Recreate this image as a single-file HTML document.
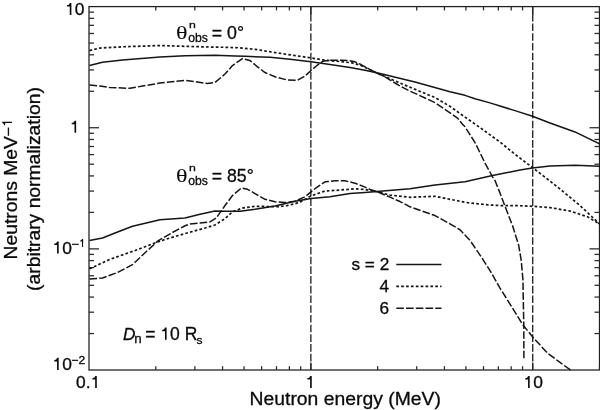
<!DOCTYPE html>
<html><head><meta charset="utf-8"><title>Neutron spectra</title>
<style>
html,body{margin:0;padding:0;background:#fff;}
body{width:600px;height:410px;overflow:hidden;}
svg{display:block;}
text{font-family:"Liberation Sans",sans-serif;fill:#0a0a0a;stroke:#0a0a0a;stroke-width:0.3;}
.ser{font-family:"Liberation Serif",serif;stroke-width:0.05;}
</style></head><body>
<svg width="600" height="410" viewBox="0 0 600 410" style="will-change:transform">
<rect x="0" y="0" width="600" height="410" fill="#fff"/>
<g stroke="#1e1e1e" stroke-width="1.25" fill="none">
<rect x="89.00" y="6.60" width="510.50" height="363.40"/>
</g>
<g stroke="#2e2e2e" stroke-width="1.3" fill="none">
<line x1="89.00" y1="333.54" x2="94.00" y2="333.54"/>
<line x1="599.50" y1="333.54" x2="594.50" y2="333.54"/>
<line x1="89.00" y1="312.20" x2="94.00" y2="312.20"/>
<line x1="599.50" y1="312.20" x2="594.50" y2="312.20"/>
<line x1="89.00" y1="297.07" x2="94.00" y2="297.07"/>
<line x1="599.50" y1="297.07" x2="594.50" y2="297.07"/>
<line x1="89.00" y1="285.33" x2="94.00" y2="285.33"/>
<line x1="599.50" y1="285.33" x2="594.50" y2="285.33"/>
<line x1="89.00" y1="275.74" x2="94.00" y2="275.74"/>
<line x1="599.50" y1="275.74" x2="594.50" y2="275.74"/>
<line x1="89.00" y1="267.63" x2="94.00" y2="267.63"/>
<line x1="599.50" y1="267.63" x2="594.50" y2="267.63"/>
<line x1="89.00" y1="260.61" x2="94.00" y2="260.61"/>
<line x1="599.50" y1="260.61" x2="594.50" y2="260.61"/>
<line x1="89.00" y1="254.41" x2="94.00" y2="254.41"/>
<line x1="599.50" y1="254.41" x2="594.50" y2="254.41"/>
<line x1="89.00" y1="248.87" x2="99.00" y2="248.87"/>
<line x1="599.50" y1="248.87" x2="589.50" y2="248.87"/>
<line x1="89.00" y1="212.40" x2="94.00" y2="212.40"/>
<line x1="599.50" y1="212.40" x2="594.50" y2="212.40"/>
<line x1="89.00" y1="191.07" x2="94.00" y2="191.07"/>
<line x1="599.50" y1="191.07" x2="594.50" y2="191.07"/>
<line x1="89.00" y1="175.94" x2="94.00" y2="175.94"/>
<line x1="599.50" y1="175.94" x2="594.50" y2="175.94"/>
<line x1="89.00" y1="164.20" x2="94.00" y2="164.20"/>
<line x1="599.50" y1="164.20" x2="594.50" y2="164.20"/>
<line x1="89.00" y1="154.61" x2="94.00" y2="154.61"/>
<line x1="599.50" y1="154.61" x2="594.50" y2="154.61"/>
<line x1="89.00" y1="146.50" x2="94.00" y2="146.50"/>
<line x1="599.50" y1="146.50" x2="594.50" y2="146.50"/>
<line x1="89.00" y1="139.47" x2="94.00" y2="139.47"/>
<line x1="599.50" y1="139.47" x2="594.50" y2="139.47"/>
<line x1="89.00" y1="133.28" x2="94.00" y2="133.28"/>
<line x1="599.50" y1="133.28" x2="594.50" y2="133.28"/>
<line x1="89.00" y1="127.73" x2="99.00" y2="127.73"/>
<line x1="599.50" y1="127.73" x2="589.50" y2="127.73"/>
<line x1="89.00" y1="91.27" x2="94.00" y2="91.27"/>
<line x1="599.50" y1="91.27" x2="594.50" y2="91.27"/>
<line x1="89.00" y1="69.94" x2="94.00" y2="69.94"/>
<line x1="599.50" y1="69.94" x2="594.50" y2="69.94"/>
<line x1="89.00" y1="54.80" x2="94.00" y2="54.80"/>
<line x1="599.50" y1="54.80" x2="594.50" y2="54.80"/>
<line x1="89.00" y1="43.06" x2="94.00" y2="43.06"/>
<line x1="599.50" y1="43.06" x2="594.50" y2="43.06"/>
<line x1="89.00" y1="33.47" x2="94.00" y2="33.47"/>
<line x1="599.50" y1="33.47" x2="594.50" y2="33.47"/>
<line x1="89.00" y1="25.36" x2="94.00" y2="25.36"/>
<line x1="599.50" y1="25.36" x2="594.50" y2="25.36"/>
<line x1="89.00" y1="18.34" x2="94.00" y2="18.34"/>
<line x1="599.50" y1="18.34" x2="594.50" y2="18.34"/>
<line x1="89.00" y1="12.14" x2="94.00" y2="12.14"/>
<line x1="599.50" y1="12.14" x2="594.50" y2="12.14"/>
<line x1="155.79" y1="370.00" x2="155.79" y2="366.20"/>
<line x1="155.79" y1="6.60" x2="155.79" y2="10.40"/>
<line x1="194.85" y1="370.00" x2="194.85" y2="366.20"/>
<line x1="194.85" y1="6.60" x2="194.85" y2="10.40"/>
<line x1="222.57" y1="370.00" x2="222.57" y2="366.20"/>
<line x1="222.57" y1="6.60" x2="222.57" y2="10.40"/>
<line x1="244.07" y1="370.00" x2="244.07" y2="366.20"/>
<line x1="244.07" y1="6.60" x2="244.07" y2="10.40"/>
<line x1="261.64" y1="370.00" x2="261.64" y2="366.20"/>
<line x1="261.64" y1="6.60" x2="261.64" y2="10.40"/>
<line x1="276.49" y1="370.00" x2="276.49" y2="366.20"/>
<line x1="276.49" y1="6.60" x2="276.49" y2="10.40"/>
<line x1="289.36" y1="370.00" x2="289.36" y2="366.20"/>
<line x1="289.36" y1="6.60" x2="289.36" y2="10.40"/>
<line x1="300.71" y1="370.00" x2="300.71" y2="366.20"/>
<line x1="300.71" y1="6.60" x2="300.71" y2="10.40"/>
<line x1="310.86" y1="370.00" x2="310.86" y2="362.50"/>
<line x1="310.86" y1="6.60" x2="310.86" y2="14.10"/>
<line x1="377.64" y1="370.00" x2="377.64" y2="366.20"/>
<line x1="377.64" y1="6.60" x2="377.64" y2="10.40"/>
<line x1="416.71" y1="370.00" x2="416.71" y2="366.20"/>
<line x1="416.71" y1="6.60" x2="416.71" y2="10.40"/>
<line x1="444.43" y1="370.00" x2="444.43" y2="366.20"/>
<line x1="444.43" y1="6.60" x2="444.43" y2="10.40"/>
<line x1="465.93" y1="370.00" x2="465.93" y2="366.20"/>
<line x1="465.93" y1="6.60" x2="465.93" y2="10.40"/>
<line x1="483.50" y1="370.00" x2="483.50" y2="366.20"/>
<line x1="483.50" y1="6.60" x2="483.50" y2="10.40"/>
<line x1="498.35" y1="370.00" x2="498.35" y2="366.20"/>
<line x1="498.35" y1="6.60" x2="498.35" y2="10.40"/>
<line x1="511.21" y1="370.00" x2="511.21" y2="366.20"/>
<line x1="511.21" y1="6.60" x2="511.21" y2="10.40"/>
<line x1="522.56" y1="370.00" x2="522.56" y2="366.20"/>
<line x1="522.56" y1="6.60" x2="522.56" y2="10.40"/>
<line x1="532.71" y1="370.00" x2="532.71" y2="362.50"/>
<line x1="532.71" y1="6.60" x2="532.71" y2="14.10"/>
<line x1="599.50" y1="370.00" x2="599.50" y2="366.20"/>
<line x1="599.50" y1="6.60" x2="599.50" y2="10.40"/>
</g>
<g stroke="#262626" stroke-width="1.35" fill="none" stroke-dasharray="7.6 2.114">
<line x1="310.86" y1="13.79" x2="310.86" y2="370.00"/>
<line x1="532.71" y1="13.79" x2="532.71" y2="370.00"/>
</g>
<g stroke="#262626" stroke-width="1.35" fill="none">
<line x1="310.86" y1="6.60" x2="310.86" y2="14.5"/>
<line x1="532.71" y1="6.60" x2="532.71" y2="14.5"/>
</g>
<g stroke="#151515" stroke-width="1.5" fill="none" stroke-linejoin="round">
<path d="M89.50,65.55 L102.50,62.30 L122.50,60.05 L160.00,57.05 L185.00,55.80 L215.00,55.30 L235.00,56.05 L245.00,56.30 L270.00,57.30 L290.00,59.30 L311.00,61.80 L330.00,64.55 L350.00,67.55 L365.00,70.15 L380.00,73.40 L415.00,81.95 L450.00,91.80 L465.00,95.35 L475.00,98.80 L490.00,102.85 L500.00,106.05 L515.00,110.65 L532.50,116.30 L550.00,122.95 L575.00,131.95 L600.00,144.15"/>
<path d="M89.50,240.55 L102.50,238.05 L115.00,233.05 L132.50,226.30 L160.00,219.80 L185.00,218.05 L200.00,214.30 L215.00,211.05 L225.00,211.30 L240.00,211.30 L255.00,209.30 L275.00,206.05 L295.00,201.30 L311.00,198.55 L330.00,196.80 L350.00,193.55 L365.00,192.55 L380.00,191.30 L410.00,188.80 L435.00,185.05 L465.00,181.80 L492.50,175.55 L520.00,170.05 L532.50,168.05 L550.00,166.05 L575.00,165.30 L600.00,166.30"/>
<path d="M89.50,50.55 L100.00,48.05 L122.50,46.80 L160.00,45.55 L185.00,46.30 L210.00,47.05 L225.00,47.30 L240.00,47.80 L255.00,49.30 L275.00,52.55 L295.00,55.55 L311.00,57.85 L325.00,60.25 L340.00,61.55 L352.00,62.85 L360.00,65.05 L370.00,69.65 L377.00,73.05 L385.00,76.55 L393.00,80.05 L400.00,83.05 L415.00,89.30 L435.00,97.55 L450.00,106.35 L465.00,117.15 L480.00,127.55 L500.00,142.05 L515.00,154.30 L532.50,167.55 L550.00,181.05 L562.50,191.05 L580.00,205.55 L600.00,224.30" stroke-dasharray="2.7 2.17" stroke-width="1.7"/>
<path d="M89.50,268.85 L110.00,259.30 L135.00,250.55 L160.00,241.05 L185.00,233.55 L205.00,228.05 L215.00,225.05 L225.00,218.55 L232.50,211.80 L242.50,208.05 L255.00,206.30 L270.00,206.55 L278.00,206.65 L287.00,205.65 L295.00,203.75 L303.00,200.65 L311.00,195.85 L325.00,191.05 L340.00,190.05 L355.00,188.80 L365.00,189.55 L375.00,191.30 L390.00,195.05 L410.00,197.30 L435.00,196.30 L450.00,199.30 L465.00,202.30 L475.00,203.55 L490.00,205.05 L500.00,205.55 L515.00,205.55 L532.50,206.30 L550.00,207.55 L570.00,211.05 L587.50,216.80 L600.00,224.30" stroke-dasharray="2.7 2.17" stroke-width="1.7"/>
<path d="M89.50,85.05 L100.00,86.05 L110.00,87.55 L130.00,88.30 L142.50,86.05 L160.00,83.05 L185.00,80.30 L195.00,81.55 L207.50,83.55 L215.00,82.55 L225.00,74.05 L232.50,65.55 L242.50,58.55 L250.00,60.55 L257.50,66.80 L265.00,72.55 L275.00,76.80 L287.50,80.05 L297.50,80.30 L305.00,76.05 L311.00,70.55 L317.50,65.05 L323.00,61.15 L330.00,60.35 L340.00,60.25 L349.00,60.65 L355.00,61.85 L361.00,64.55 L370.00,69.55 L377.00,73.05 L385.00,76.85 L393.00,81.85 L401.70,86.85 L410.00,91.15 L418.30,94.85 L435.00,102.65 L450.00,112.85 L457.50,118.05 L462.50,124.30 L465.00,126.80 L475.00,142.55 L485.00,163.05 L492.50,176.80 L495.00,180.55 L500.00,193.05 L503.75,203.05 L512.50,225.55 L518.75,245.55 L521.25,260.55 L523.00,280.55 L523.20,295.55 L523.80,325.55 L523.90,359.30" stroke-dasharray="7.6 2.15"/>
<path d="M89.50,279.05 L102.50,277.95 L117.50,272.45 L132.50,264.65 L145.00,252.75 L158.00,240.85 L172.00,232.75 L185.00,225.75 L190.00,224.05 L200.00,223.05 L210.00,221.80 L216.25,218.05 L225.00,205.55 L232.50,195.55 L241.25,188.05 L247.50,189.30 L255.00,193.55 L265.00,199.30 L275.00,201.80 L285.00,202.55 L295.00,201.30 L305.00,196.80 L311.00,191.80 L317.50,186.80 L325.00,181.80 L335.00,180.80 L345.00,180.85 L355.00,183.15 L365.00,187.15 L370.00,189.35 L378.00,192.05 L390.00,197.15 L400.00,201.55 L410.00,206.80 L435.00,215.55 L450.00,223.85 L460.00,229.75 L470.00,240.35 L480.00,255.05 L490.00,270.55 L500.00,288.05 L512.50,308.05 L522.50,324.30 L532.50,336.80 L547.50,353.15 L560.00,362.45 L571.60,370.85" stroke-dasharray="7.6 2.15"/>
<line x1="396.3" y1="264.55" x2="441.5" y2="264.55"/>
<line x1="396.3" y1="286.45" x2="441.5" y2="286.45" stroke-dasharray="2.7 2.17" stroke-width="1.7"/>
<line x1="396.3" y1="308.2" x2="441.5" y2="308.2" stroke-dasharray="7.6 2.15"/>
</g>
<!-- tick labels -->
<path d="M100,-500 L100,-572 Q232,-586 270,-709 L356,-709 L356,0 L262,0 L262,-500 Z" transform="translate(65.20,15.05) scale(0.01740,0.01702)" fill="#0a0a0a" stroke="none"/>
<text x="74.87" y="15.05" font-size="17.4">0</text>
<path d="M100,-500 L100,-572 Q232,-586 270,-709 L356,-709 L356,0 L262,0 L262,-500 Z" transform="translate(69.95,132.70) scale(0.01740,0.01702)" fill="#0a0a0a" stroke="none"/>
<path d="M100,-500 L100,-572 Q232,-586 270,-709 L356,-709 L356,0 L262,0 L262,-500 Z" transform="translate(52.50,253.50) scale(0.01740,0.01702)" fill="#0a0a0a" stroke="none"/>
<text x="62.17" y="253.50" font-size="17.4">0</text>
<path d="M100,-500 L100,-572 Q232,-586 270,-709 L356,-709 L356,0 L262,0 L262,-500 Z" transform="translate(52.50,369.90) scale(0.01740,0.01702)" fill="#0a0a0a" stroke="none"/>
<text x="62.17" y="369.90" font-size="17.4">0</text>
<text x="76.10" y="387.95" font-size="17.4">0.</text>
<path d="M100,-500 L100,-572 Q232,-586 270,-709 L356,-709 L356,0 L262,0 L262,-500 Z" transform="translate(90.61,387.95) scale(0.01740,0.01702)" fill="#0a0a0a" stroke="none"/>
<path d="M100,-500 L100,-572 Q232,-586 270,-709 L356,-709 L356,0 L262,0 L262,-500 Z" transform="translate(305.56,387.95) scale(0.01740,0.01702)" fill="#0a0a0a" stroke="none"/>
<path d="M100,-500 L100,-572 Q232,-586 270,-709 L356,-709 L356,0 L262,0 L262,-500 Z" transform="translate(523.50,387.95) scale(0.01740,0.01702)" fill="#0a0a0a" stroke="none"/>
<text x="533.17" y="387.95" font-size="17.4">0</text>
<text font-size="11.2" transform="translate(71.45,247.6) scale(1.17,1)">−</text><path d="M100,-500 L100,-572 Q232,-586 270,-709 L356,-709 L356,0 L262,0 L262,-500 Z" transform="translate(79.04,247.10) scale(0.01140,0.01129)" fill="#0a0a0a" stroke="none"/>
<text font-size="11" transform="translate(71.55,363.8) scale(1.10,1.032)">−2</text>
<!-- axis titles -->
<text font-size="18.7" transform="translate(249.55,404.95) scale(1.035,1)">Neutron energy (MeV)</text>
<text font-size="18.7" transform="translate(17.05,259.5) rotate(-90) scale(1.032,1)">Neutrons MeV</text>
<text font-size="14" transform="translate(13.25,136.46) rotate(-90) scale(1.15,1)">−</text>
<g transform="translate(17.05,259.5) rotate(-90)"><path d="M100,-500 L100,-572 Q232,-586 270,-709 L356,-709 L356,0 L262,0 L262,-500 Z" transform="translate(132.76,-5.00) scale(0.01400,0.01379)" fill="#0a0a0a" stroke="none"/></g>
<text font-size="18.7" transform="translate(40.35,189.05) rotate(-90) scale(1.032,1)" text-anchor="middle">(arbitrary normalization)</text>
<!-- annotations -->
<text class="ser" font-size="19.5" transform="translate(175.9,38.75) scale(1.234,0.967)">θ</text>
<text font-size="11" transform="translate(189.1,27.7) scale(1.117,0.88)">n</text>
<text font-size="12.2" x="188.25" y="42.1">obs</text>
<text font-size="17.8" x="211.75" y="39.0">= 0°</text>
<text class="ser" font-size="19.5" transform="translate(175.9,181.75) scale(1.234,0.967)">θ</text>
<text font-size="11" transform="translate(189.1,170.7) scale(1.117,0.88)">n</text>
<text font-size="12.2" x="188.25" y="185.1">obs</text>
<text font-size="17.7" x="211.75" y="182.0">= 85°</text>
<!-- Dn -->
<text font-size="17.2" x="123.0" y="339.7" font-style="italic">D</text>
<text font-size="12.5" transform="translate(134.3,343.2) scale(1.07,0.99)">n</text>
<text x="145.30" y="339.75" font-size="17.5">= </text>
<path d="M100,-500 L100,-572 Q232,-586 270,-709 L356,-709 L356,0 L262,0 L262,-500 Z" transform="translate(160.39,339.75) scale(0.01750,0.01711)" fill="#0a0a0a" stroke="none"/>
<text x="170.12" y="339.75" font-size="17.5">0 R</text>
<text font-size="12.5" transform="translate(196.45,343.6) scale(0.962,0.934)">s</text>
<!-- legend -->
<g font-size="17.2">
<text x="351.5" y="269.9">s = 2</text>
<text x="389.0" y="291.9" text-anchor="end">4</text>
<text x="389.0" y="314.4" text-anchor="end">6</text>
</g>
</svg>
</body></html>
